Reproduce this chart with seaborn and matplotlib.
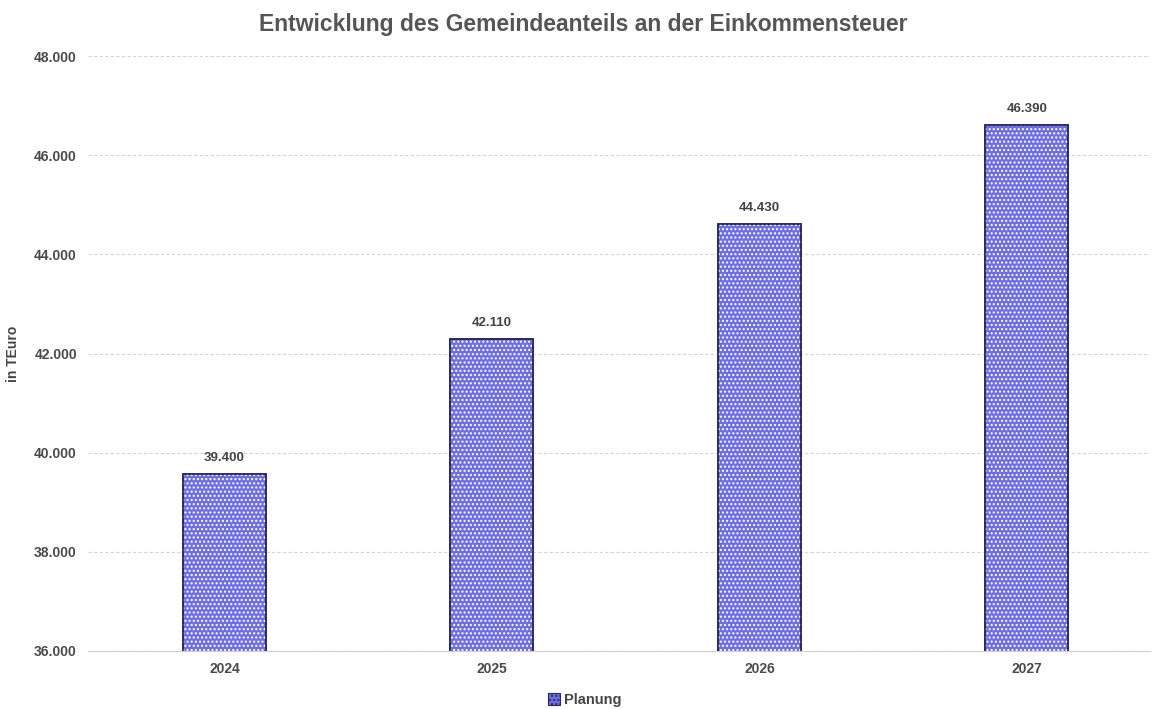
import pandas as pd
import seaborn as sns
import matplotlib.pyplot as plt
from matplotlib.patches import Patch

# Data
years = ['2024', '2025', '2026', '2027']
bar_heights = [39570, 42290, 44610, 46600]   # tops of the drawn bars
value_labels = ['39.400', '42.110', '44.430', '46.390']  # printed labels
y_ticks = [36000, 38000, 40000, 42000, 44000, 46000, 48000]

df = pd.DataFrame({'Jahr': years, 'Wert': bar_heights})

sns.set_theme(style='white')
plt.rcParams['font.family'] = ['Liberation Sans', 'DejaVu Sans']

fig = plt.figure(figsize=(11.53, 7.09), dpi=100)
ax = fig.add_axes([88 / 1153, 1 - 651 / 709, (1150 - 88) / 1153, (651 - 56) / 709])

fill = '#6e6ee4'
edge = '#2a2a5a'
grey = '#555555'

sns.barplot(data=df, x='Jahr', y='Wert', color=fill, width=0.31, ax=ax,
            saturation=1, edgecolor=edge, linewidth=1.2, zorder=3)

# white dotted pattern on top of the bars
for p in list(ax.patches):
    ax.bar(p.get_x() + p.get_width() / 2, p.get_height(), width=p.get_width(),
           bottom=p.get_y(), facecolor='none', edgecolor='white',
           hatch='....', linewidth=0, zorder=4)
    ax.bar(p.get_x() + p.get_width() / 2, p.get_height(), width=p.get_width(),
           bottom=p.get_y(), facecolor='none', edgecolor=edge,
           linewidth=1.2, zorder=5)

# value labels
for i, (h, lab) in enumerate(zip(bar_heights, value_labels)):
    ax.text(i, h + 200, lab, ha='center', va='bottom', fontsize=9.5,
            fontweight='bold', color='#444444', zorder=6)

ax.set_ylim(36000, 48000)
ax.set_xlim(-0.51, 3.46)
ax.set_yticks(y_ticks)
ax.set_yticklabels([f'{t:,}'.replace(',', '.') for t in y_ticks])
ax.tick_params(axis='both', labelsize=10, colors=grey, length=0, pad=8)
for lbl in ax.get_xticklabels() + ax.get_yticklabels():
    lbl.set_fontweight('bold')
    lbl.set_color('#4a4a4a')

ax.yaxis.grid(True, linestyle=(0, (3, 2)), color='#d5d5d5', linewidth=0.8, zorder=0)
ax.set_axisbelow(True)
for s in ['top', 'right', 'left']:
    ax.spines[s].set_visible(False)
ax.spines['bottom'].set_color('#d0d0d0')
ax.spines['bottom'].set_linewidth(0.8)

ax.set_xlabel('')
ax.set_ylabel('in TEuro', fontsize=10, fontweight='bold', color='#444444', labelpad=10)

fig.text(583 / 1153, 1 - 24 / 709, 'Entwicklung des Gemeindeanteils an der Einkommensteuer',
         ha='center', va='center', fontsize=16.5, fontweight='bold', color=grey)

handle = Patch(facecolor=fill, edgecolor=edge, hatch='....', linewidth=0.8)
fig.legend([handle], ['Planung'], loc='center', bbox_to_anchor=(585 / 1153, 1 - 700 / 709),
           frameon=False, handlelength=0.8, handleheight=0.8,
           handletextpad=0.3, prop={'weight': 'bold', 'size': 10.5})
for t in fig.legends[0].get_texts():
    t.set_color('#444444')

fig.savefig('out.png', dpi=100)
